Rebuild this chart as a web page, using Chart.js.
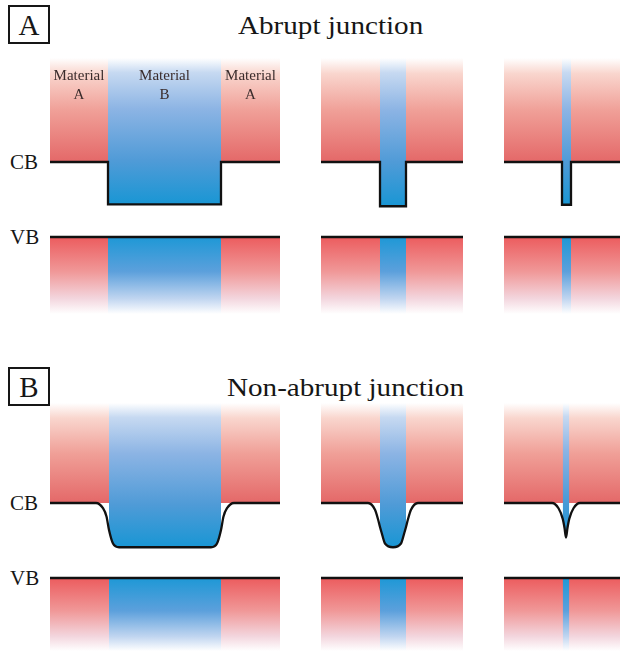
<!DOCTYPE html>
<html>
<head>
<meta charset="utf-8">
<script src="https://cdn.jsdelivr.net/npm/chart.js@4.4.1/dist/chart.umd.min.js"></script>
<style>
  body { margin: 0; background: #fff; width: 620px; height: 651px; overflow: hidden; position: relative;
         font-family: "Liberation Serif", "Times New Roman", serif; color: #161616; }
  canvas { position: absolute; }
  .box { position: absolute; left: 8px; width: 42px; height: 39px; box-sizing: border-box;
         border: 2px solid #161616; text-align: center; font-size: 29px; line-height: 37px; }
  .title { position: absolute; font-size: 26px; line-height: 26px; white-space: nowrap;
           transform-origin: 0 0; transform: scaleX(1.12); }
  .band { position: absolute; left: 10px; font-size: 20px; line-height: 20px;
          transform-origin: 0 0; transform: scaleX(1.05); }
</style>
</head>
<body>
<div class="box" style="top:5px">A</div>
<div class="title" style="left:238px; top:13px">Abrupt junction</div>
<div class="band" style="top:152px">CB</div>
<div class="band" style="top:227px">VB</div>

<div class="box" style="top:367px">B</div>
<div class="title" style="left:227px; top:375px">Non-abrupt junction</div>
<div class="band" style="top:493px">CB</div>
<div class="band" style="top:568px">VB</div>

<script>
// ---- data (position in nm, energy in arbitrary units, VB edge = 0) ----
const panelIds = ['A1', 'A2', 'A3', 'B1', 'B2', 'B3'];
const spanNm = [23.0, 14.2, 11.6, 23.0, 14.2, 11.6];
const stripFrom = [5.8, 5.9, 5.8, 5.9, 5.9, 5.87];
const stripTo = [17.1, 8.5, 6.7, 17.1, 8.5, 6.53];
const cbEnergy = 1.0;
const vbEnergy = 0.0;
const wellFloor = [0.436, 0.41, 0.43];   // abrupt wells (row A)

// graded (non-abrupt) conduction band edges
const gradedB1x = [0, 4.6, 5.3, 5.65, 5.9, 6.3, 6.9, 16.1, 16.7, 17.1, 17.35, 17.7, 18.4, 23.0];
const gradedB1e = [1, 1, 0.93, 0.82, 0.64, 0.46, 0.41, 0.41, 0.46, 0.64, 0.82, 0.93, 1, 1];
const gradedB2x = [0, 4.7, 5.4, 5.73, 5.9, 6.07, 6.4, 7.2, 8.0, 8.33, 8.5, 8.67, 9.0, 9.7, 14.2];
const gradedB2e = [1, 1, 0.91, 0.77, 0.68, 0.6, 0.46, 0.41, 0.46, 0.6, 0.68, 0.77, 0.91, 1, 1];
const gradedB3x = [0, 4.8, 5.45, 5.87, 6.05, 6.2, 6.35, 6.53, 6.95, 7.6, 11.6];
const gradedB3e = [1, 1, 0.93, 0.79, 0.67, 0.54, 0.67, 0.79, 0.93, 1, 1];
const gradedX = [gradedB1x, gradedB2x, gradedB3x];
const gradedE = [gradedB1e, gradedB2e, gradedB3e];

const materialTop = ['Material', 'Material', 'Material'];
const materialBottom = ['A', 'B', 'A'];

// ---- layout ----
const colLeft = [50, 321, 504];
const colWidth = [230, 142, 116];
const rowTop = [58, 403];
const rowHeight = [256, 248];
const rowEnergyMax = [2.387, 2.333];
const rowEnergyMin = [-1.027, -0.973];

// ---- colours ----
const redUp = [[0, 'rgb(228,104,104)'], [0.5, 'rgb(240,160,152)'], [0.85, 'rgb(249,214,206)'], [1, 'rgb(255,255,255)']];
const redDown = [[0, 'rgb(236,92,94)'], [0.45, 'rgb(240,152,152)'], [0.8, 'rgb(243,214,222)'], [1, 'rgb(255,255,255)']];
const blueUp = [[0, 'rgb(25,150,212)'], [0.3, 'rgb(80,155,215)'], [0.65, 'rgb(140,180,228)'], [0.9, 'rgb(198,217,241)'], [1, 'rgb(255,255,255)']];
const blueDown = [[0, 'rgb(30,152,214)'], [0.45, 'rgb(92,160,220)'], [0.8, 'rgb(192,213,240)'], [1, 'rgb(255,255,255)']];

function grad(chart, from, to, stops) {
  if (!chart.chartArea) return 'transparent';
  const y = chart.scales.y;
  const g = chart.ctx.createLinearGradient(0, y.getPixelForValue(from), 0, y.getPixelForValue(to));
  stops.forEach(s => g.addColorStop(s[0], s[1]));
  return g;
}

function profileFor(i) {
  const W = spanNm[i], b0 = stripFrom[i], b1 = stripTo[i];
  if (i < 3) {
    const f = wellFloor[i];
    return [{x: 0, y: cbEnergy}, {x: b0, y: cbEnergy}, {x: b0, y: f},
            {x: b1, y: f}, {x: b1, y: cbEnergy}, {x: W, y: cbEnergy}];
  }
  const xs = gradedX[i - 3], es = gradedE[i - 3];
  return xs.map((x, k) => ({x: x, y: es[k]}));
}

// "Material A / B / A" labels on the first panel
const materialLabels = {
  id: 'materialLabels',
  afterDatasetsDraw(chart) {
    const {ctx, chartArea} = chart;
    const x = chart.scales.x;
    const W = spanNm[0], b0 = stripFrom[0], b1 = stripTo[0];
    const centers = [b0 / 2, (b0 + b1) / 2, (b1 + W) / 2];
    ctx.save();
    ctx.font = '15px "Liberation Serif", serif';
    ctx.fillStyle = '#3a2c2c';
    ctx.textAlign = 'center';
    centers.forEach((c, k) => {
      const px = x.getPixelForValue(c);
      ctx.fillText(materialTop[k], px, chartArea.top + 22);
      ctx.fillText(materialBottom[k], px, chartArea.top + 41);
    });
    ctx.restore();
  }
};

function makePanel(i) {
  const col = i % 3, row = Math.floor(i / 3);
  const canvas = document.createElement('canvas');
  canvas.id = 'panel' + panelIds[i];
  canvas.width = colWidth[col];
  canvas.height = rowHeight[row];
  canvas.style.left = colLeft[col] + 'px';
  canvas.style.top = rowTop[row] + 'px';
  document.body.appendChild(canvas);

  const W = spanNm[i], b0 = stripFrom[i], b1 = stripTo[i];
  const eMax = rowEnergyMax[row], eMin = rowEnergyMin[row];
  const profile = profileFor(i);
  const floor = Math.min(...profile.map(p => p.y));
  const mode = row === 1 ? 'monotone' : 'default';
  const base = {pointRadius: 0, borderWidth: 0, borderColor: 'transparent', tension: 0};

  new Chart(canvas, {
    type: 'line',
    data: {
      datasets: [
        {...base, label: 'CB edge', data: profile, borderColor: '#111', borderWidth: 2.3,
          borderJoinStyle: 'miter', cubicInterpolationMode: mode, fill: false},
        {...base, label: 'VB edge', data: [{x: 0, y: vbEnergy}, {x: W, y: vbEnergy}],
          borderColor: '#111', borderWidth: 2.3, fill: false},
        {...base, label: 'B conduction', data: profile.filter(p => p.x >= b0 && p.x <= b1),
          cubicInterpolationMode: mode, fill: 'end',
          backgroundColor: c => grad(c.chart, floor, eMax, blueUp)},
        {...base, label: 'B valence', data: [{x: b0, y: vbEnergy}, {x: b1, y: vbEnergy}], fill: 'start',
          backgroundColor: c => grad(c.chart, vbEnergy, eMin, blueDown)},
        {...base, label: 'A conduction', data: [{x: 0, y: cbEnergy}, {x: W, y: cbEnergy}], fill: 'end',
          backgroundColor: c => grad(c.chart, cbEnergy, eMax, redUp)},
        {...base, label: 'A valence', data: [{x: 0, y: vbEnergy}, {x: W, y: vbEnergy}], fill: 'start',
          backgroundColor: c => grad(c.chart, vbEnergy, eMin, redDown)}
      ]
    },
    options: {
      responsive: false,
      animation: false,
      events: [],
      layout: {padding: 0},
      plugins: {
        legend: {display: false},
        tooltip: {enabled: false},
        filler: {drawTime: 'beforeDatasetsDraw'}
      },
      scales: {
        x: {type: 'linear', min: 0, max: W, display: false},
        y: {type: 'linear', min: eMin, max: eMax, display: false}
      }
    },
    plugins: i === 0 ? [materialLabels] : []
  });
}

panelIds.forEach((id, i) => makePanel(i));
</script>
</body>
</html>
